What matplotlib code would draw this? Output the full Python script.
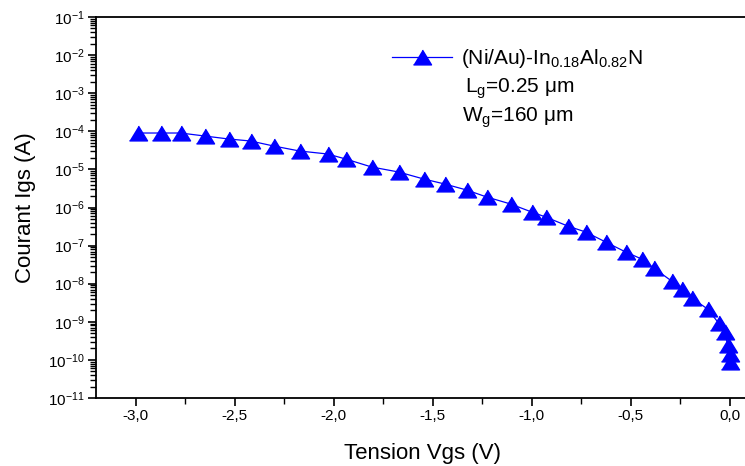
import matplotlib
matplotlib.use("Agg")
import matplotlib.pyplot as plt
from matplotlib.ticker import MultipleLocator, FuncFormatter, LogLocator, NullFormatter

plt.rcParams['font.family'] = ['Liberation Sans', 'DejaVu Sans']
plt.rcParams['mathtext.fontset'] = 'custom'
plt.rcParams['mathtext.rm'] = 'Liberation Sans'
plt.rcParams['mathtext.it'] = 'Liberation Sans'
plt.rcParams['mathtext.default'] = 'regular'

# Gate voltage (V) and gate current (A)
vgs = [-2.99, -2.874, -2.773, -2.652, -2.530, -2.419, -2.303, -2.172, -2.030,
       -1.939, -1.808, -1.672, -1.545, -1.439, -1.328, -1.227, -1.106, -1.000,
       -0.929, -0.818, -0.727, -0.626, -0.525, -0.444, -0.384, -0.293, -0.242,
       -0.192, -0.111, -0.056, -0.025, -0.010, 0.0, 0.0]
log_igs = [-4.045, -4.045, -4.045, -4.123, -4.202, -4.255, -4.386, -4.517, -4.596,
           -4.727, -4.937, -5.068, -5.252, -5.383, -5.541, -5.724, -5.908, -6.118,
           -6.249, -6.486, -6.643, -6.906, -7.168, -7.352, -7.588, -7.929, -8.139,
           -8.375, -8.664, -9.031, -9.268, -9.609, -9.845, -10.055]
igs = [10 ** v for v in log_igs]

legend_label = "(Ni/Au)-In$_{0.18}$Al$_{0.82}$N"
extra_lines = ["L$_g$=0.25 \u03bcm", "W$_g$=160 \u03bcm"]

fig = plt.figure(figsize=(7.45, 4.66), dpi=100)
ax = fig.add_axes([96 / 745, 68 / 466, 653.4 / 745, 381 / 466])

tri = [(-1.0, -0.82), (1.0, -0.82), (0.0, 0.82)]
ax.plot(vgs, igs, color="blue", lw=0.9, marker=tri, ms=13,
        markerfacecolor="blue", markeredgecolor="blue", label=legend_label)

ax.set_yscale("log")
ax.set_ylim(1e-11, 1e-1)
ax.set_xlim(-3.2, 0.1)

ax.xaxis.set_major_locator(MultipleLocator(0.5))
ax.xaxis.set_minor_locator(MultipleLocator(0.25))
ax.xaxis.set_major_formatter(FuncFormatter(lambda v, p: f"{v:.1f}".replace(".", ",").replace("-0,0", "0,0")))
ax.yaxis.set_major_locator(LogLocator(base=10, numticks=20))
ax.yaxis.set_minor_locator(LogLocator(base=10, subs=range(2, 10), numticks=20))
ax.yaxis.set_minor_formatter(NullFormatter())

ax.tick_params(which="major", direction="out", length=6, width=1.2, labelsize=11, pad=2)
ax.tick_params(which="minor", direction="out", length=4, width=1.0)
ax.tick_params(top=False, right=False)
for s in ax.spines.values():
    s.set_linewidth(1.3)

ax.set_xlabel("Tension Vgs (V)", fontsize=16, labelpad=14)
ax.set_ylabel("Courant Igs (A)", fontsize=16, labelpad=9)

ax.legend(loc="upper left", bbox_to_anchor=(392 / 745, 1 - 47 / 466),
          bbox_transform=fig.transFigure, frameon=False, numpoints=1,
          fontsize=15, handlelength=2.9, handletextpad=0.4, borderpad=0, borderaxespad=0)

fig.text(465 / 745, 1 - 93 / 466, extra_lines[0], fontsize=15, va="baseline", ha="left")
fig.text(462 / 745, 1 - 122 / 466, extra_lines[1], fontsize=15, va="baseline", ha="left")

fig.savefig("out.png", dpi=100)
